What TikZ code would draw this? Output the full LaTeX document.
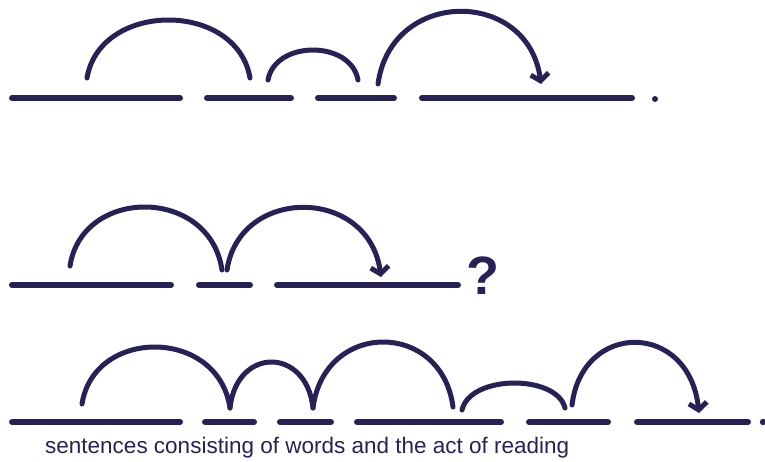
\documentclass[tikz,border=0pt]{standalone}
\usepackage{fontspec}
\setmainfont{Liberation Sans}
\usepackage{tikz}
\usetikzlibrary{arrows.meta}
\definecolor{ink}{RGB}{38,34,88}

\begin{document}
\begin{tikzpicture}[x=1pt,y=-1pt,
    word/.style={ink,line width=6pt,line cap=round},
    jump/.style={ink,line width=5pt,line cap=round},
    lastjump/.style={jump,-{Straight Barb[length=7pt,width=18pt]}}]
  \useasboundingbox (0,0) rectangle (765,461);
  % Words of the three sentences (x from / x to)
  \foreach \a/\b in {12/180,207/291,318/394,422/632}
    \draw[word] (\a,98) -- (\b,98);
  \foreach \a/\b in {12/171,199/250,277/458}
    \draw[word] (\a,285) -- (\b,285);
  \foreach \a/\b in {12/180,205/254,280/331,357/501,529/608,637/748}
    \draw[word] (\a,422) -- (\b,422);
  % Full stops and question mark
  \fill[ink] (655,99) circle (3);
  \fill[ink] (763,422) circle (3.2);
  \node[ink,font=\fontsize{54}{54}\selectfont\bfseries,anchor=base west,inner sep=0pt]
    (quest) at (466,294) {?};
  % Jumps of the eye (start x/y, end x/y, top y)
  \foreach \xa/\ya/\xb/\yb/\t in {87/78/250/78/20, 268/80/358/80/50,
      70/266/222/270/207, 82/404/230/408/347, 230/408/313/408/362,
      313/408/453/407/342, 462/410/565/408/383} {
    \pgfmathsetmacro\c{(\t-(\ya+\yb)/8)/0.75}
    \pgfmathsetmacro\d{0.08*(\xb-\xa)}
    \draw[jump] (\xa,\ya) .. controls (\xa+\d,\c) and (\xb-\d,\c) .. (\xb,\yb);
  }
  % Last jump of each sentence ends in an arrow
  \foreach \xa/\ya/\xb/\yb/\t in {378/84/541/84/12, 227/270/381/277/208,
      572/405/699/413/343} {
    \pgfmathsetmacro\c{(\t-(\ya+\yb)/8)/0.75}
    \pgfmathsetmacro\d{0.08*(\xb-\xa)}
    \draw[lastjump] (\xa,\ya) .. controls (\xa+\d,\c) and (\xb-\d,\c) .. (\xb,\yb);
  }
  % Caption
  \node[ink,font=\fontsize{22.5}{24}\selectfont,anchor=base west,inner sep=0pt]
    (caption) at (45,453) {sentences consisting of words and the act of reading};
\end{tikzpicture}
\end{document}
